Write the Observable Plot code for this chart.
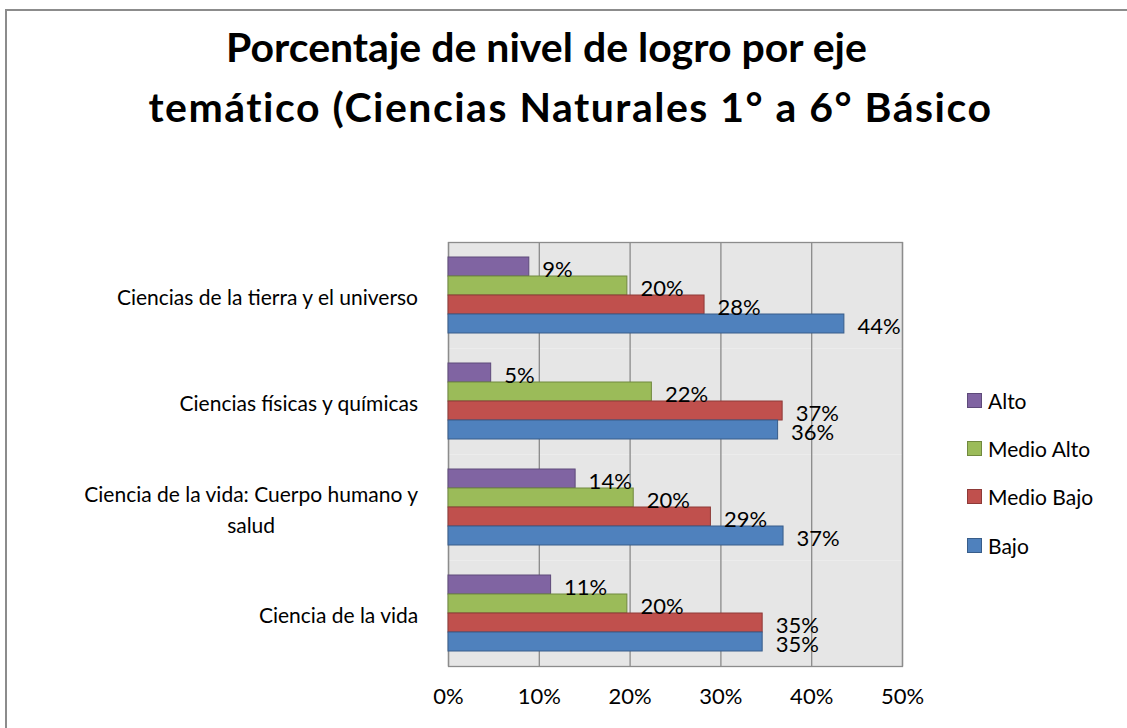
<!DOCTYPE html>
<html>
<head>
<meta charset="utf-8">
<script src="https://cdn.jsdelivr.net/npm/d3@7"></script>
<script src="https://cdn.jsdelivr.net/npm/@observablehq/plot@0.6"></script>
<style>
  html, body { margin: 0; padding: 0; background: #fff; }
  #wrap { position: relative; width: 1127px; height: 728px; overflow: hidden; background: #fff; font-family: Lato, "Open Sans", sans-serif; color: #000; }
  #border { position: absolute; left: 5px; top: 9px; width: 1140px; height: 740px; border: 2px solid #8c8c8c; box-sizing: border-box; }
  .title { position: absolute; left: 0; width: 1127px; text-align: center; font-weight: bold; font-size: 41px; line-height: 44px; }
  #chart { position: absolute; left: 0; top: 200px; }
  #legend { position: absolute; left: 967px; top: 0; font-size: 21px; }
  .item { position: absolute; left: 0; white-space: nowrap; display: flex; align-items: center; height: 24px; }
  .sw { width: 13px; height: 13px; margin-right: 6px; border: 1px solid; }
</style>
</head>
<body>
<div id="wrap">
  <div id="border"></div>
  <div class="title" id="t1" style="top:25px; padding-right:34px; box-sizing:border-box;"></div>
  <div class="title" id="t2" style="top:85px; padding-left:14px; box-sizing:border-box; letter-spacing:1.5px;"></div>
  <div id="chart"></div>
  <div id="legend"></div>
</div>
<script>
const titleLines = ["Porcentaje de nivel de logro por eje", "temático (Ciencias Naturales 1° a 6° Básico"];
const categories = [
  "Ciencias de la tierra y el universo",
  "Ciencias físicas y químicas",
  "Ciencia de la vida: Cuerpo humano y\nsalud",
  "Ciencia de la vida"
];
const series = ["Alto", "Medio Alto", "Medio Bajo", "Bajo"];
const alto      = [8.9, 4.7, 14.0, 11.3];
const medioAlto = [19.7, 22.4, 20.4, 19.7];
const medioBajo = [28.2, 36.8, 28.9, 34.6];
const bajo      = [43.6, 36.3, 36.9, 34.6];
const labels = {
  "Alto":       ["9%", "5%", "14%", "11%"],
  "Medio Alto": ["20%", "22%", "20%", "20%"],
  "Medio Bajo": ["28%", "37%", "29%", "35%"],
  "Bajo":       ["44%", "36%", "37%", "35%"]
};
const xTicks = [0, 10, 20, 30, 40, 50];
const colors = ["#8064A2", "#9BBB59", "#C0504D", "#4F81BD"];
const strokes = ["#5e4a7a", "#71893f", "#8e3a38", "#385d8a"];

document.getElementById("t1").textContent = titleLines[0];
document.getElementById("t2").textContent = titleLines[1];

const valuesBySeries = [alto, medioAlto, medioBajo, bajo];
const rows = [];
categories.forEach((c, i) => series.forEach((s, j) => rows.push({
  category: c, series: s, value: valuesBySeries[j][i], label: labels[s][i]
})));

const catFontSize = 21;
const ctx = document.createElement("canvas").getContext("2d");
ctx.font = catFontSize + "px Lato";
const labelGap = 30;
const catMarks = categories.map(c => {
  const w = Math.max(...c.split("\n").map(l => ctx.measureText(l).width));
  return Plot.text([c], {
    fy: d => d, text: d => d, frameAnchor: "left", textAnchor: "middle",
    dx: -(labelGap + w / 2), fontSize: catFontSize, lineHeight: 1.48, fill: "#000"
  });
});

const chart = Plot.plot({
  width: 1127,
  height: 528,
  marginTop: 40,
  marginBottom: 61,
  marginLeft: 448,
  marginRight: 225,
  style: { fontFamily: "Lato, 'Open Sans', sans-serif", background: "transparent", overflow: "visible" },
  x: { domain: [0, 50], axis: null },
  y: { domain: series, axis: null, paddingInner: 0, paddingOuter: 0.77 },
  fy: { domain: categories, axis: null, padding: 0 },
  color: { domain: series, range: colors },
  marks: [
    Plot.frame({ fill: "#e6e6e6" }),
    Plot.gridX({ ticks: xTicks, stroke: "#8a8a8a", strokeOpacity: 1, strokeWidth: 1.3 }),
    Plot.frame({ stroke: "#8c8c8c", strokeWidth: 1.3, facet: "super" }),
    Plot.barX(rows, {
      fy: "category", y: "series", x: "value", fill: "series",
      stroke: d => strokes[series.indexOf(d.series)], strokeWidth: 1
    }),
    Plot.text(rows, {
      fy: "category", y: "series", x: "value", text: "label",
      textAnchor: "start", dx: 13, dy: 3, fontSize: 22, fill: "#000"
    }),
    Plot.axisX({
      ticks: xTicks, tickFormat: d => d + "%", tickSize: 0, tickPadding: 22,
      fontSize: 22, fill: "#000", label: null
    }),
    ...catMarks
  ]
});
document.getElementById("chart").appendChild(chart);

const legend = document.getElementById("legend");
const legendTops = [388, 436, 484, 533];
series.forEach((s, i) => {
  const item = document.createElement("div");
  item.className = "item";
  item.style.top = legendTops[i] + "px";
  const sw = document.createElement("span");
  sw.className = "sw";
  sw.style.background = colors[i];
  sw.style.borderColor = strokes[i];
  item.appendChild(sw);
  item.appendChild(document.createTextNode(s));
  legend.appendChild(item);
});
</script>
</body>
</html>
